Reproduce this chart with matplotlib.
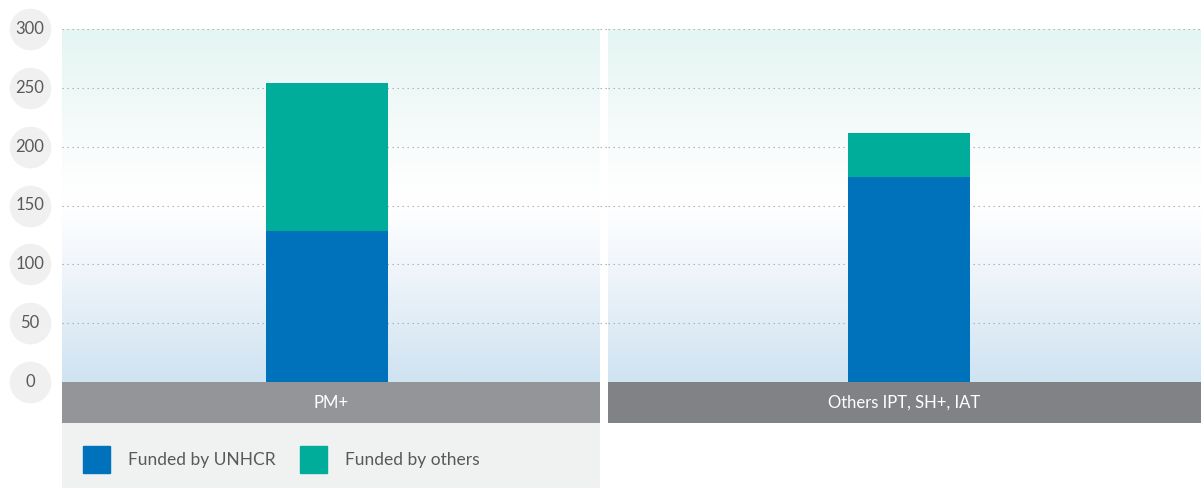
import numpy as np
import matplotlib
matplotlib.use("Agg")
import matplotlib.pyplot as plt
from matplotlib.colors import LinearSegmentedColormap
from matplotlib.lines import Line2D
from matplotlib.patches import Rectangle
import matplotlib.transforms as mtransforms

plt.rcParams['font.family'] = ['Lato', 'DejaVu Sans']

# data
categories = ['PM+', 'Others IPT, SH+, IAT']
funded_unhcr = [128, 174]
funded_others = [126, 38]
series_labels = ['Funded by UNHCR', 'Funded by others']
y_ticks = [0, 50, 100, 150, 200, 250, 300]

c_unhcr = '#0072bc'
c_others = '#00ad9b'
band_colors = ['#939598', '#808285']

W, H = 1201, 488
fig = plt.figure(figsize=(W / 100, H / 100), dpi=100)

def fx(px):
    return px / W

def fy(px):
    # px measured from top
    return 1 - px / H

top, bottom = 29, 382
panels = [(62, 600), (608, 1201)]
bar_px = 122
bar_center = [327, 909]

grad = LinearSegmentedColormap.from_list(
    'bg', [(0, '#cfe3f1'), (0.3, '#eef4fa'), (0.5, '#ffffff'), (0.62, '#fbfdfd'), (1, '#e4f5f2')])
gimg = np.linspace(0, 1, 256).reshape(-1, 1)

axes = []
for i, (x0, x1) in enumerate(panels):
    ax = fig.add_axes([fx(x0), fy(bottom), fx(x1 - x0), (bottom - top) / H])
    pw = x1 - x0
    frac = (bar_center[i] - x0) / pw
    ax.set_xlim(-frac, 1 - frac)
    ax.set_ylim(0, 300)
    ax.imshow(gimg, cmap=grad, aspect='auto', origin='lower',
              extent=[0, 1, 0, 1], transform=ax.transAxes, zorder=0)
    for t in y_ticks[1:]:
        ax.axhline(t, color='#a7a9ac', lw=0.8, ls=(0, (1.2, 3.3)), zorder=1)
    w = bar_px / pw
    ax.bar(0, funded_unhcr[i], width=w, color=c_unhcr, zorder=2)
    ax.bar(0, funded_others[i], width=w, bottom=funded_unhcr[i], color=c_others, zorder=2)
    ax.set_xticks([])
    ax.set_yticks([])
    for s in ax.spines.values():
        s.set_visible(False)
    axes.append(ax)

    # category band
    bax = fig.add_axes([fx(x0), fy(423), fx(x1 - x0), 41 / H])
    bax.set_facecolor(band_colors[i])
    bax.set_xticks([])
    bax.set_yticks([])
    for s in bax.spines.values():
        s.set_visible(False)
    bax.text(0.5, 0.5, categories[i], color='white', fontsize=12,
             ha='center', va='center', transform=bax.transAxes)

ax1 = axes[0]
# gridlines across the gap
tr = mtransforms.blended_transform_factory(fig.transFigure, ax1.transData)
for t in y_ticks[1:]:
    fig.lines.append(Line2D([fx(600), fx(608)], [t, t], transform=tr,
                            color='#a7a9ac', lw=0.8, ls=(0, (1.2, 3.3))))

# y tick labels in circles
for t in y_ticks:
    ax1.plot([fx(30)], [t], 'o', ms=29, color='#f0f0f0', transform=tr, clip_on=False, zorder=5)
    ax1.text(fx(30), t, str(t), transform=tr, ha='center', va='center',
             fontsize=12, color='#58595b', zorder=6, clip_on=False)

# legend box
lax = fig.add_axes([fx(62), 0, fx(538), 65 / H])
lax.set_facecolor('#f0f1f1')
lax.set_xlim(0, 538)
lax.set_ylim(0, 65)
lax.set_xticks([])
lax.set_yticks([])
for s in lax.spines.values():
    s.set_visible(False)
for x, lab, col in [(21, series_labels[0], c_unhcr), (238, series_labels[1], c_others)]:
    lax.add_patch(Rectangle((x, 15), 27, 27, color=col))
    lax.text(x + 45, 28.5, lab, fontsize=12.5, color='#58595b', va='center', ha='left')

fig.savefig('out.png', dpi=100)
